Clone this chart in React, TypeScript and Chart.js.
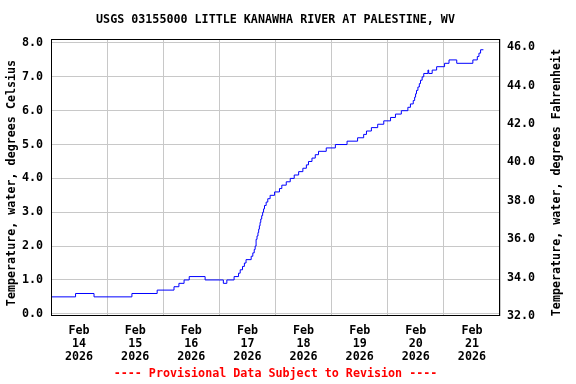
import React, { useEffect, useRef } from 'react';
import { Chart, registerables } from 'chart.js';

Chart.register(...registerables);

// Hours since Feb 14 2026 00:00 at which the reading changes, and the reading (deg C)
const hours = [
  0, 10.5, 18.4, 34.6, 45.4, 52.6, 54.7, 56.9, 59.1, 65.9, 73.7, 75.2, 78.3, 80.2, 80.9, 81.9,
  82.7, 83.4, 85.6, 86.3, 86.9, 87.3, 87.7, 88.1, 88.5, 88.8, 89.1, 89.4, 89.7, 90.1, 90.5,
  90.9, 91.3, 92.0, 92.7, 93.7, 95.6, 97.7, 98.7, 100.6, 102.3, 104.0, 105.9, 107.7, 109.2,
  110.1, 111.6, 113.0, 114.4, 117.7, 121.6, 126.6, 131.1, 133.7, 134.9, 137.0, 139.7, 142.3,
  145.2, 147.3, 149.8, 152.6, 153.7, 154.9, 155.5, 155.9, 156.3, 156.9, 157.5, 158.0, 158.7,
  159.4, 161.2, 161.5, 163.0, 164.9, 168.3, 170.2, 173.5, 180.4, 182.3, 183.0, 183.7, 184.9,
];
const tempC = [
  0.5, 0.6, 0.5, 0.6, 0.7, 0.8, 0.9, 1.0, 1.1, 1.0, 0.9, 1.0, 1.1, 1.2, 1.3, 1.4,
  1.5, 1.6, 1.7, 1.8, 1.9, 2.0, 2.2, 2.3, 2.4, 2.5, 2.6, 2.7, 2.8, 2.9, 3.0,
  3.1, 3.2, 3.3, 3.4, 3.5, 3.6, 3.7, 3.8, 3.9, 4.0, 4.1, 4.2, 4.3, 4.4,
  4.5, 4.6, 4.7, 4.8, 4.9, 5.0, 5.1, 5.2, 5.3, 5.4, 5.5, 5.6, 5.7,
  5.8, 5.9, 6.0, 6.1, 6.2, 6.3, 6.4, 6.5, 6.6, 6.7, 6.8, 6.9, 7.0,
  7.1, 7.2, 7.1, 7.2, 7.3, 7.4, 7.5, 7.4, 7.5, 7.6, 7.7, 7.8, 7.8,
];

const monthLabel = 'Feb';
const yearLabel = '2026';
const dayLabels = ['14', '15', '16', '17', '18', '19', '20', '21'];
const celsiusTicks = [0, 1, 2, 3, 4, 5, 6, 7, 8];
const fahrenheitTicks = [32, 34, 36, 38, 40, 42, 44, 46];

const TITLE = 'USGS 03155000 LITTLE KANAWHA RIVER AT PALESTINE, WV';
const FOOTER = '---- Provisional Data Subject to Revision ----';
const LEFT_TITLE = 'Temperature, water, degrees Celsius';
const RIGHT_TITLE = 'Temperature, water, degrees Fahrenheit';

const FAMILY = "'DejaVu Sans Mono', monospace";
const FS = 11.7;

const decor = {
  id: 'decor',
  afterDraw(chart: any) {
    const { ctx, chartArea: a } = chart;
    ctx.save();
    ctx.strokeStyle = '#000';
    ctx.lineWidth = 1;
    ctx.strokeRect(a.left + 0.5, a.top + 0.5, a.right - a.left - 1, a.bottom - a.top - 1);
    ctx.font = `bold ${FS}px ${FAMILY}`;
    ctx.textAlign = 'center';
    ctx.textBaseline = 'middle';
    const cx = (a.left + a.right) / 2;
    ctx.fillStyle = '#000';
    ctx.fillText(TITLE, cx, 20);
    ctx.fillStyle = '#ff0000';
    ctx.fillText(FOOTER, cx, 374);
    ctx.fillStyle = '#000';
    ctx.save();
    ctx.translate(12, 183);
    ctx.rotate(-Math.PI / 2);
    ctx.fillText(LEFT_TITLE, 0, 0);
    ctx.restore();
    ctx.save();
    ctx.translate(557, 182.5);
    ctx.rotate(-Math.PI / 2);
    ctx.fillText(RIGHT_TITLE, 0, 0);
    ctx.restore();
    ctx.restore();
  },
};

export default function App() {
  const ref = useRef<HTMLCanvasElement>(null);
  useEffect(() => {
    if (!ref.current) return;
    const font = { family: FAMILY, size: FS, weight: 'bold' as const, lineHeight: 1.11 };
    const xTicks: number[] = [];
    for (let i = 0; i <= dayLabels.length * 2; i++) xTicks.push(i * 12);
    const chart = new Chart(ref.current, {
      type: 'line',
      data: {
        datasets: [
          {
            data: hours.map((h, i) => ({ x: h, y: tempC[i] })),
            borderColor: '#0000ff',
            borderWidth: 1,
            pointRadius: 0,
            stepped: 'before',
            fill: false,
            yAxisID: 'y',
          },
        ],
      },
      options: {
        animation: false,
        responsive: false,
        layout: { padding: { top: 39, left: 0, right: 0, bottom: 0 } },
        plugins: { legend: { display: false }, title: { display: false }, tooltip: { enabled: false } },
        scales: {
          x: {
            type: 'linear',
            position: 'bottom',
            min: 0,
            max: 192,
            afterBuildTicks: (s: any) => {
              s.ticks = xTicks.map((v) => ({ value: v }));
            },
            afterFit: (s: any) => {
              s.height = 68;
            },
            grid: {
              color: (c: any) => (c.tick && c.tick.value % 24 === 0 ? '#c8c8c8' : 'rgba(0,0,0,0)'),
              lineWidth: 1,
              drawTicks: false,
            },
            border: { display: false },
            ticks: {
              autoSkip: false,
              maxRotation: 0,
              padding: 8,
              color: '#000',
              font,
              callback: (v: any) => {
                const n = Number(v);
                if (n % 24 !== 12) return '';
                const idx = (n - 12) / 24;
                return [monthLabel, dayLabels[idx], yearLabel];
              },
            },
          },
          y: {
            type: 'linear',
            position: 'left',
            min: -0.065,
            max: 8.118,
            afterBuildTicks: (s: any) => {
              s.ticks = celsiusTicks.map((v) => ({ value: v }));
            },
            afterFit: (s: any) => {
              s.width = 51;
            },
            grid: { color: '#c8c8c8', lineWidth: 1, drawTicks: false },
            border: { display: false },
            ticks: { padding: 8, color: '#000', font, callback: (v: any) => Number(v).toFixed(1) },
          },
          y2: {
            type: 'linear',
            position: 'right',
            display: true,
            min: 32,
            max: 46.42,
            afterBuildTicks: (s: any) => {
              s.ticks = fahrenheitTicks.map((v) => ({ value: v }));
            },
            afterFit: (s: any) => {
              s.width = 76;
            },
            grid: { display: false, drawTicks: false },
            border: { display: false },
            ticks: { padding: 7, color: '#000', font, callback: (v: any) => Number(v).toFixed(1) },
          },
        },
      },
      plugins: [decor],
    });
    return () => chart.destroy();
  }, []);
  return (
    <div style={{ position: 'absolute', left: 0, top: 0, width: 576, height: 384, background: '#fff' }}>
      <canvas ref={ref} width={576} height={384} style={{ display: 'block' }} />
    </div>
  );
}
